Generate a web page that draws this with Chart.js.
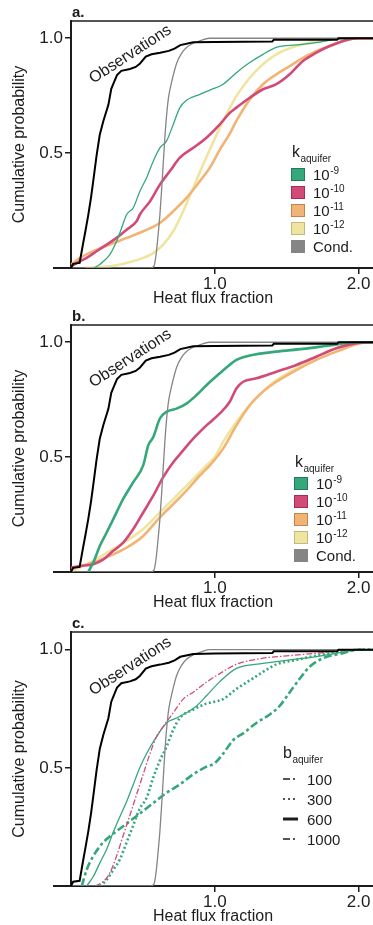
<!DOCTYPE html>
<html>
<head>
<meta charset="utf-8">
<script src="https://cdn.jsdelivr.net/npm/chart.js@4"></script>
<style>
  body { margin: 0; background: #fff; width: 373px; height: 925px; position: relative; overflow: hidden; }
  canvas { position: absolute; left: 0; }
</style>
</head>
<body>
<canvas id="panelA" width="373" height="307" style="top:0"></canvas>
<canvas id="panelB" width="373" height="307" style="top:304px"></canvas>
<canvas id="panelC" width="373" height="314" style="top:611px"></canvas>
<script>
// axis ticks and texts
var xTicks = [1.0, 2.0];
var yTicks = [0.5, 1.0];
var xTitle = 'Heat flux fraction';
var yTitle = 'Cumulative probability';
var kExponents = ['-9', '-10', '-11', '-12'];
var condLabel = 'Cond.';
var bLabels = ['100', '300', '600', '1000'];

// observed heat flux fraction (same curve in every panel)
var obs = [[0, 0], [0.015, 0.018], [0.06, 0.022], [0.085, 0.11], [0.1, 0.16], [0.12, 0.23], [0.14, 0.31],
  [0.155, 0.38], [0.178, 0.49], [0.2, 0.58], [0.225, 0.64], [0.26, 0.71], [0.28, 0.78], [0.3, 0.81],
  [0.32, 0.84], [0.35, 0.858], [0.41, 0.866], [0.45, 0.875], [0.48, 0.89], [0.52, 0.92], [0.56, 0.93],
  [0.62, 0.937], [0.68, 0.945], [0.72, 0.955], [0.76, 0.97], [0.85, 0.982], [1.0, 0.984], [1.4, 0.986],
  [1.41, 0.993], [1.85, 0.993], [1.86, 1.0], [2.1, 1.0]];

// conduction only
var cond = [[0, 0], [0.55, 0], [0.576, 0.007], [0.59, 0.05], [0.605, 0.14], [0.618, 0.23], [0.63, 0.34],
  [0.641, 0.45], [0.652, 0.56], [0.664, 0.66], [0.68, 0.75], [0.7, 0.81], [0.734, 0.89], [0.77, 0.935],
  [0.803, 0.96], [0.85, 0.978], [0.9, 0.99], [0.96, 1.0], [2.1, 1.0]];

// panel a, k aquifer 1e-9 .. 1e-12
var a9 = [[0.16, 0], [0.2, 0.015], [0.225, 0.029], [0.27, 0.058], [0.317, 0.116], [0.352, 0.174], [0.387, 0.233],
  [0.433, 0.262], [0.479, 0.334], [0.525, 0.392], [0.572, 0.465], [0.618, 0.523], [0.664, 0.552], [0.711, 0.625],
  [0.757, 0.698], [0.803, 0.73], [0.896, 0.756], [0.97, 0.775], [1.058, 0.8], [1.15, 0.85], [1.243, 0.894],
  [1.335, 0.93], [1.428, 0.96], [1.567, 0.971], [1.706, 0.981], [1.845, 0.996], [1.984, 1.0], [2.1, 1.0]];
var a10 = [[0, 0.007], [0.04, 0.022], [0.109, 0.044], [0.178, 0.073], [0.248, 0.102], [0.317, 0.131], [0.387, 0.167],
  [0.456, 0.203], [0.479, 0.233], [0.549, 0.29], [0.618, 0.363], [0.688, 0.422], [0.757, 0.48], [0.85, 0.523],
  [0.942, 0.567], [1.035, 0.625], [1.104, 0.675], [1.15, 0.698], [1.243, 0.741], [1.335, 0.778], [1.428, 0.8],
  [1.521, 0.843], [1.613, 0.901], [1.706, 0.937], [1.799, 0.966], [1.938, 0.996], [2.0, 1.0], [2.1, 1.0]];
var a11 = [[0, 0.015], [0.063, 0.044], [0.155, 0.073], [0.27, 0.102], [0.387, 0.131], [0.502, 0.16], [0.618, 0.196],
  [0.711, 0.247], [0.803, 0.305], [0.896, 0.378], [0.965, 0.436], [1.035, 0.515], [1.104, 0.585], [1.15, 0.64],
  [1.243, 0.733], [1.335, 0.8], [1.428, 0.843], [1.521, 0.879], [1.613, 0.915], [1.706, 0.944], [1.799, 0.966],
  [1.938, 0.996], [2.0, 1.0], [2.1, 1.0]];
var a12 = [[0.1, 0], [0.27, 0.007], [0.387, 0.022], [0.502, 0.044], [0.572, 0.065], [0.641, 0.102], [0.711, 0.16],
  [0.78, 0.247], [0.85, 0.349], [0.919, 0.451], [0.965, 0.515], [1.058, 0.64], [1.15, 0.748], [1.243, 0.828],
  [1.335, 0.887], [1.428, 0.93], [1.567, 0.966], [1.706, 0.985], [1.891, 1.0], [2.1, 1.0]];

// panel b
var b9 = [[0.12, 0], [0.155, 0.041], [0.201, 0.114], [0.248, 0.172], [0.294, 0.23], [0.363, 0.318], [0.433, 0.391],
  [0.502, 0.464], [0.537, 0.551], [0.572, 0.587], [0.618, 0.668], [0.664, 0.697], [0.734, 0.711], [0.803, 0.733],
  [0.873, 0.77], [0.942, 0.813], [1.035, 0.865], [1.1, 0.9], [1.15, 0.923], [1.243, 0.942], [1.428, 0.959],
  [1.613, 0.971], [1.799, 0.986], [1.984, 1.0], [2.1, 1.0]];
var b10 = [[0, 0.019], [0.063, 0.026], [0.155, 0.034], [0.225, 0.055], [0.294, 0.092], [0.363, 0.128], [0.433, 0.187],
  [0.502, 0.259], [0.572, 0.332], [0.641, 0.413], [0.711, 0.478], [0.78, 0.529], [0.85, 0.58], [0.942, 0.638],
  [1.035, 0.69], [1.104, 0.741], [1.15, 0.799], [1.197, 0.828], [1.289, 0.843], [1.428, 0.872], [1.567, 0.901],
  [1.706, 0.937], [1.845, 0.974], [1.984, 0.996], [2.1, 1.0]];
var b11 = [[0, 0.012], [0.063, 0.026], [0.155, 0.041], [0.27, 0.07], [0.387, 0.106], [0.502, 0.157], [0.618, 0.238],
  [0.711, 0.296], [0.803, 0.354], [0.896, 0.42], [0.965, 0.464], [1.058, 0.537], [1.15, 0.638], [1.243, 0.726],
  [1.335, 0.785], [1.428, 0.828], [1.567, 0.879], [1.706, 0.923], [1.845, 0.959], [1.984, 0.991], [2.05, 1.0], [2.1, 1.0]];
var b12 = [[0, 0.004], [0.063, 0.019], [0.155, 0.048], [0.27, 0.092], [0.387, 0.136], [0.502, 0.187], [0.618, 0.259],
  [0.734, 0.332], [0.85, 0.405], [0.942, 0.464], [1.0, 0.5], [1.058, 0.566], [1.15, 0.653], [1.243, 0.726],
  [1.335, 0.785], [1.428, 0.835], [1.567, 0.886], [1.706, 0.937], [1.845, 0.974], [1.984, 0.996], [2.05, 1.0], [2.1, 1.0]];

// panel c, b aquifer 100 .. 1000
var c100 = [[0.167, 0], [0.225, 0.019], [0.27, 0.055], [0.317, 0.127], [0.363, 0.214], [0.41, 0.3], [0.456, 0.387],
  [0.502, 0.473], [0.549, 0.56], [0.595, 0.632], [0.641, 0.675], [0.711, 0.733], [0.78, 0.791], [0.85, 0.82],
  [0.942, 0.863], [1.035, 0.899], [1.15, 0.938], [1.335, 0.964], [1.521, 0.975], [1.706, 0.985], [1.891, 0.996],
  [2.0, 1.0], [2.1, 1.0]];
var c300 = [[0.201, 0], [0.248, 0.026], [0.294, 0.069], [0.34, 0.113], [0.387, 0.185], [0.433, 0.257], [0.479, 0.329],
  [0.525, 0.372], [0.572, 0.459], [0.618, 0.531], [0.664, 0.589], [0.711, 0.661], [0.757, 0.711], [0.85, 0.747],
  [0.942, 0.772], [1.058, 0.791], [1.15, 0.834], [1.243, 0.87], [1.335, 0.906], [1.428, 0.938], [1.567, 0.957],
  [1.706, 0.975], [1.891, 0.993], [2.0, 1.0], [2.1, 1.0]];
var c600 = [[0.109, 0], [0.155, 0.04], [0.201, 0.098], [0.248, 0.156], [0.294, 0.228], [0.34, 0.293], [0.387, 0.358],
  [0.433, 0.43], [0.479, 0.502], [0.525, 0.56], [0.595, 0.632], [0.664, 0.69], [0.734, 0.711], [0.803, 0.733],
  [0.873, 0.762], [0.942, 0.805], [1.035, 0.865], [1.15, 0.921], [1.335, 0.942], [1.521, 0.957], [1.706, 0.971],
  [1.891, 0.99], [2.0, 1.0], [2.1, 1.0]];
var c1000 = [[0.075, 0], [0.109, 0.069], [0.155, 0.127], [0.225, 0.185], [0.294, 0.221], [0.387, 0.264], [0.479, 0.307],
  [0.572, 0.351], [0.664, 0.394], [0.757, 0.43], [0.85, 0.473], [0.942, 0.505], [1.0, 0.52], [1.058, 0.56],
  [1.127, 0.617], [1.197, 0.646], [1.289, 0.69], [1.382, 0.726], [1.451, 0.762], [1.521, 0.82], [1.59, 0.877],
  [1.66, 0.928], [1.752, 0.964], [1.891, 0.985], [2.0, 1.0], [2.1, 1.0]];

var FONT = '"Liberation Sans", Arial, Helvetica, sans-serif';
var INK = '#1c1c1c';
var kColors = ['#34a87a', '#d24b78', '#f2b475', '#f0e5a0'];
var kEdges = ['#23795a', '#9e3057', '#c08650', '#c4b97c'];
var condColor = '#858585';
var obsLabelAt = [0.413, 0.93];  // where the "Observations" text sits, in data units

function curve(label, pts, color, width, dash) {
    return {
        label: label,
        data: pts.map(function (p) { return { x: p[0], y: p[1] }; }),
        borderColor: color,
        borderWidth: width,
        borderDash: dash || [],
        pointRadius: 0,
        fill: false,
        cubicInterpolationMode: 'monotone'
    };
}

function baseSets() {
    var o = curve('Observations', obs, '#000', 2);
    o.cubicInterpolationMode = 'default';
    o.tension = 0;
    return [o, curve(condLabel, cond, condColor, 1.3)];
}

// key layout per canvas (kept out of chart options so Chart.js does not resolve it)
var keys = {};

// draws frame bits, panel letter, x title, the rotated label and the key
var decor = {
    id: 'decor',
    afterDraw: function (chart) {
        var ctx = chart.ctx, area = chart.chartArea;
        var xs = chart.scales.x, ys = chart.scales.y;
        var key = keys[chart.canvas.id];
        ctx.save();
        ctx.strokeStyle = INK;
        ctx.lineWidth = 1.5;
        ctx.beginPath();
        ctx.moveTo(area.left, area.top);
        ctx.lineTo(area.right, area.top);
        ctx.stroke();
        ctx.lineWidth = 2;
        ctx.beginPath();
        ctx.moveTo(area.left - 18, area.bottom);
        ctx.lineTo(area.left, area.bottom);
        ctx.stroke();

        ctx.fillStyle = INK;
        ctx.textAlign = 'left';
        ctx.textBaseline = 'alphabetic';
        ctx.font = 'bold 15px ' + FONT;
        ctx.fillText(key.letter, area.left + 1, area.top - 4);

        ctx.font = '16px ' + FONT;
        ctx.textAlign = 'center';
        ctx.textBaseline = 'middle';
        ctx.fillText(xTitle, (area.left - 18 + area.right) / 2, area.bottom + 31);

        ctx.save();
        ctx.translate(xs.getPixelForValue(obsLabelAt[0]), ys.getPixelForValue(obsLabelAt[1]));
        ctx.rotate(-33 * Math.PI / 180);
        ctx.font = '16px ' + FONT;
        ctx.fillText('Observations', 0, 0);
        ctx.restore();

        ctx.textAlign = 'left';
        ctx.textBaseline = 'alphabetic';
        ctx.font = '16px ' + FONT;
        ctx.fillText(key.symbol, key.x, key.y);
        var sw = ctx.measureText(key.symbol).width;
        ctx.font = '10px ' + FONT;
        ctx.fillText('aquifer', key.x + sw + 0.5, key.y + 5);
        key.rows.forEach(function (row, i) {
            var top = key.y + key.first + i * key.step;
            if (row.swatch) {
                ctx.fillStyle = row.swatch;
                ctx.fillRect(key.x - 1, top, 14, 13);
                if (row.edge) {
                    ctx.strokeStyle = row.edge;
                    ctx.lineWidth = 1;
                    ctx.strokeRect(key.x - 0.5, top + 0.5, 13, 12);
                }
            } else {
                ctx.strokeStyle = INK;
                ctx.lineWidth = row.lw;
                ctx.setLineDash(row.pattern);
                ctx.beginPath();
                ctx.moveTo(key.x, top + 6.5);
                ctx.lineTo(key.x + 15, top + 6.5);
                ctx.stroke();
                ctx.setLineDash([]);
            }
            ctx.fillStyle = INK;
            ctx.font = '15px ' + FONT;
            ctx.fillText(row.text, key.x + key.textDx, top + 12);
            if (row.sup) {
                var tw = ctx.measureText(row.text).width;
                ctx.font = '10px ' + FONT;
                ctx.fillText(row.sup, key.x + key.textDx + tw + 0.5, top + 6);
            }
        });
        ctx.restore();
    }
};

function kRows() {
    var rows = kExponents.map(function (e, i) {
        return { text: '10', sup: e, swatch: kColors[i], edge: kEdges[i] };
    });
    rows.push({ text: condLabel, swatch: condColor });
    return rows;
}

function makePanel(id, sets, key) {
    keys[id] = key;
    var tickFont = { family: FONT, size: 17 };
    return new Chart(document.getElementById(id), {
        type: 'line',
        data: { datasets: sets },
        plugins: [decor],
        options: {
            responsive: false,
            animation: false,
            layout: { padding: { top: 21, right: 0, bottom: 0, left: 0 } },
            plugins: {
                legend: { display: false },
                tooltip: { enabled: false }
            },
            scales: {
                x: {
                    type: 'linear',
                    min: 0,
                    max: 2.1,
                    afterBuildTicks: function (s) { s.ticks = xTicks.map(function (v) { return { value: v }; }); },
                    afterFit: function (s) { s.height = 39; },
                    ticks: { font: tickFont, color: INK, padding: 0, maxRotation: 0,
                        callback: function (v) { return v.toFixed(1); } },
                    grid: { drawOnChartArea: false, drawTicks: true, tickLength: 6, color: INK, lineWidth: 1.5 },
                    border: { color: INK, width: 2 }
                },
                y: {
                    min: 0,
                    max: 1.075,
                    afterBuildTicks: function (s) { s.ticks = yTicks.map(function (v) { return { value: v }; }); },
                    afterFit: function (s) { s.width = 71; },
                    ticks: { font: tickFont, color: INK, padding: 2,
                        callback: function (v) { return v.toFixed(1); } },
                    grid: { drawOnChartArea: false, drawTicks: true, tickLength: 6, color: INK, lineWidth: 1.5 },
                    border: { color: INK, width: 2 },
                    title: { display: true, text: yTitle, color: INK, font: { family: FONT, size: 16 },
                        padding: { top: 10, bottom: 0 } }
                }
            }
        }
    });
}

var setsA = baseSets().concat([
    curve('1e-9', a9, kColors[0], 1.3),
    curve('1e-10', a10, kColors[1], 2.6),
    curve('1e-11', a11, kColors[2], 2.6),
    curve('1e-12', a12, kColors[3], 2.6)
]);
makePanel('panelA', setsA,
    { letter: 'a.', symbol: 'k', x: 292, y: 157, first: 11, step: 18, textDx: 21, rows: kRows() });

var setsB = baseSets().concat([
    curve('1e-9', b9, kColors[0], 2.6),
    curve('1e-10', b10, kColors[1], 2.6),
    curve('1e-11', b11, kColors[2], 2.6),
    curve('1e-12', b12, kColors[3], 2.6)
]);
makePanel('panelB', setsB,
    { letter: 'b.', symbol: 'k', x: 295, y: 163, first: 10, step: 18, textDx: 21, rows: kRows() });

var bDash = [[7, 3, 2, 3], [2, 3], [], [7, 3, 2, 3]];
var bWidth = [1.5, 1.5, 3, 1.5];
var setsC = baseSets().concat([
    curve(bLabels[0], c100, kColors[1], 1.3, [6, 2, 1.5, 2]),
    curve(bLabels[2], c600, kColors[0], 1.3),
    curve(bLabels[1], c300, kColors[0], 2.6, [2, 2.5]),
    curve(bLabels[3], c1000, kColors[0], 2.6, [8, 3, 3, 3])
]);
makePanel('panelC', setsC,
    { letter: 'c.', symbol: 'b', x: 283, y: 147, first: 14.5, step: 20, textDx: 24,
      rows: bLabels.map(function (t, i) { return { text: t, pattern: bDash[i], lw: bWidth[i] }; }) });
</script>
</body>
</html>
